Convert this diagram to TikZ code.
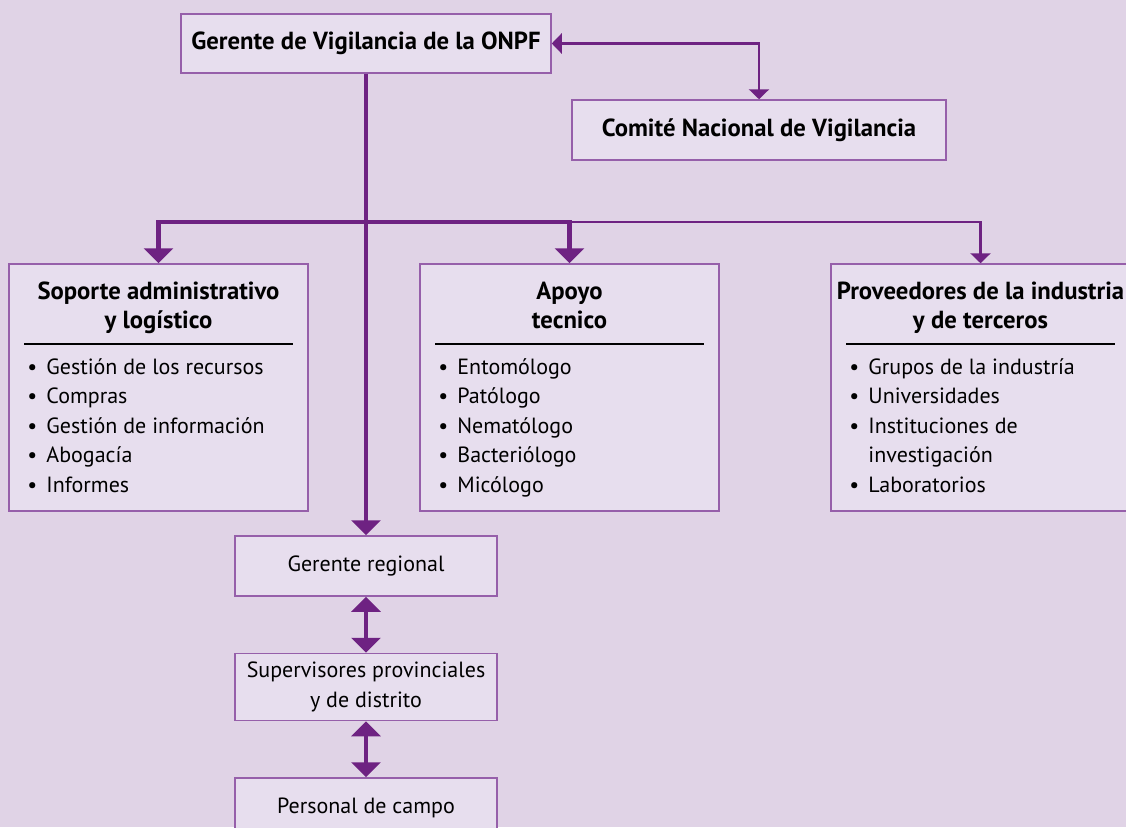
\documentclass[tikz,border=0pt]{standalone}
\usepackage{fontspec}
\setmainfont{PT Sans}
\usepackage{tikz}
\usetikzlibrary{arrows.meta, positioning}
\definecolor{pagepurple}{RGB}{224, 211, 230}
\definecolor{boxpurple}{RGB}{231, 222, 238}
\definecolor{edgepurple}{RGB}{150, 95, 170}
\definecolor{linkpurple}{RGB}{110, 34, 130}
\newcommand{\itm}[1]{\makebox[19pt][l]{\textbullet}#1}

\begin{document}
\begin{tikzpicture}[
    x=1pt, y=-1pt,
    node distance=56pt,
    box/.style={rectangle, draw=edgepurple, line width=1.5pt, fill=boxpurple, align=center, inner sep=0pt},
    title/.style={font=\fontsize{24.7}{29}\selectfont\bfseries},
    body/.style={font=\fontsize{22}{29.5}\selectfont},
    listbox/.style={box, minimum width=299pt, minimum height=247pt},
    smallbox/.style={box, body, minimum width=262pt, minimum height=60pt},
    rule/.style={black, line width=2pt},
    bigtip/.style={-{Triangle[width=29pt,length=15pt]}},
    trunk/.style={linkpurple, line width=4.5pt, bigtip},
    link/.style={linkpurple, line width=2.5pt, -{Triangle[width=20pt,length=10pt]}}
]
    % page
    \fill[pagepurple] (0,0) rectangle (1126,827);
    \useasboundingbox (0,0) rectangle (1126,827);

    % Top level
    \node[box, title, minimum width=370pt, minimum height=59pt] (gvig) at (366,43.5) {Gerente de Vigilancia de la ONPF};
    \node[box, title, minimum width=374pt, minimum height=60pt] (com) at (759,130) {Comité Nacional de Vigilancia};

    % Support boxes
    \node[listbox] (sop) at (158.5,387.5) {};
    \node[listbox] (apo) at (569.5,387.5) {};
    \node[listbox] (prov) at (980.5,387.5) {};

    \node[title, align=center, inner sep=0pt, anchor=north] (soph) at ([yshift=-15.7pt]sop.north) {\strut Soporte administrativo\\y logístico};
    \node[title, align=center, inner sep=0pt, anchor=north] (apoh) at ([yshift=-15.7pt]apo.north) {\strut Apoyo\\tecnico};
    \node[title, align=center, inner sep=0pt, anchor=north] (provh) at ([yshift=-15.7pt]prov.north) {\strut Proveedores de la industria\\y de terceros};

    \draw[rule] ([xshift=16pt,yshift=-81pt]sop.north west) -- ([xshift=-16pt,yshift=-81pt]sop.north east);
    \draw[rule] ([xshift=16pt,yshift=-81pt]apo.north west) -- ([xshift=-16pt,yshift=-81pt]apo.north east);
    \draw[rule] ([xshift=16pt,yshift=-81pt]prov.north west) -- ([xshift=-16pt,yshift=-81pt]prov.north east);

    \node[body, align=left, inner sep=0pt, anchor=north west] (sopl) at ([xshift=19pt,yshift=-90.3pt]sop.north west)
        {\strut\itm{Gestión de los recursos}\\\itm{Compras}\\\itm{Gestión de información}\\\itm{Abogacía}\\\itm{Informes}};
    \node[body, align=left, inner sep=0pt, anchor=north west] (apol) at ([xshift=19pt,yshift=-90.3pt]apo.north west)
        {\strut\itm{Entomólogo}\\\itm{Patólogo}\\\itm{Nematólogo}\\\itm{Bacteriólogo}\\\itm{Micólogo}};
    \node[body, align=left, inner sep=0pt, anchor=north west] (provl) at ([xshift=19pt,yshift=-90.3pt]prov.north west)
        {\strut\itm{Grupos de la industría}\\\itm{Universidades}\\\itm{Instituciones de}\\\hspace*{19pt}investigación\\\itm{Laboratorios}};

    % Regional chain
    \node[smallbox] (greg) at (366,566) {Gerente regional};
    \node[smallbox, minimum height=67pt, below=of greg] (sup) {Supervisores provinciales\\y de distrito};
    \node[smallbox, below=of sup] (camp) {Personal de campo};

    % Arrows
    \coordinate (bus) at (gvig.south |- 0,222);
    \draw[trunk] (gvig) -- (greg);
    \draw[trunk] (bus) -| (sop.north);
    \draw[trunk] (bus) -| (apo.north);
    \draw[link] (apo.north |- bus) -| (prov.north);
    \draw[link, {Triangle[width=20pt,length=10pt]}-{Triangle[width=20pt,length=10pt]}] (gvig.east) -| (com.north);
    \draw[trunk, {Triangle[width=29pt,length=15pt]}-{Triangle[width=29pt,length=15pt]}] (greg) -- (sup);
    \draw[trunk, {Triangle[width=29pt,length=15pt]}-{Triangle[width=29pt,length=15pt]}] (sup) -- (camp);
\end{tikzpicture}
\end{document}
